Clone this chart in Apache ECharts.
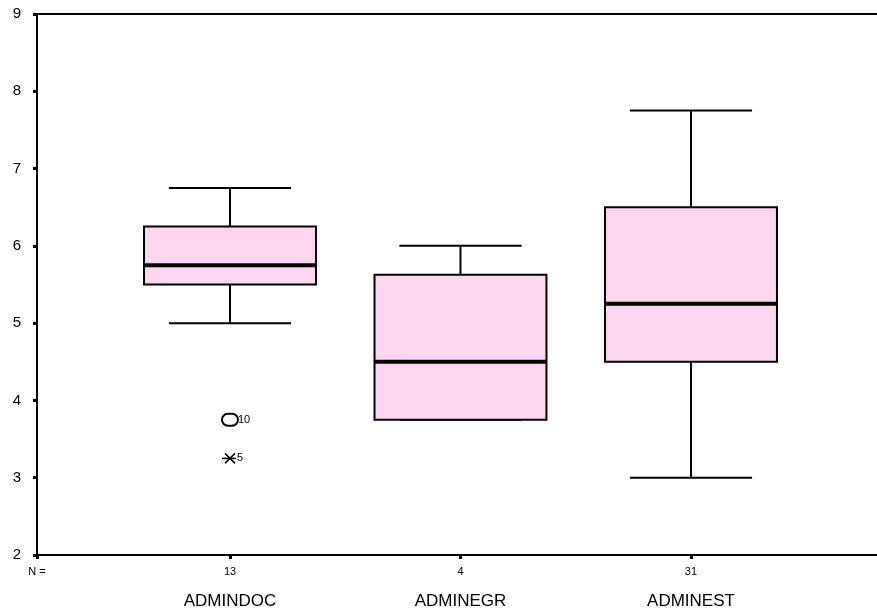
<!DOCTYPE html>
<html lang="en">

<head>
  <meta charset="UTF-8">
  <title>Boxplot</title>
  <style>
    html, body { margin: 0; padding: 0; background: #fff; }
    #box { width: 877px; height: 610px; }
  </style>
</head>

<body>
  <div id="box"></div>
  <script src="https://cdn.jsdelivr.net/npm/echarts@6/dist/echarts.min.js"></script>
  <script>
    // data
    var categories = ['ADMINDOC', 'ADMINEGR', 'ADMINEST'];
    var counts = [13, 4, 31];
    var lowWhisker = [5, 3.75, 3];
    var q1 = [5.5, 3.75, 4.5];
    var median = [5.75, 4.5, 5.25];
    var q3 = [6.25, 5.625, 6.5];
    var highWhisker = [6.75, 6, 7.75];
    // outliers (circle) and extremes (star): [group, value, case label]
    var outliers = [[1, 3.75, '10']];
    var extremes = [[1, 3.25, '5']];
    var yTicks = [2, 3, 4, 5, 6, 7, 8, 9];

    var xMin = 0.1627;
    var xMax = 3.807;
    var boxHalf = 0.373;
    var capHalf = 0.265;

    var boxData = categories.map(function (c, i) {
      return [i + 1, lowWhisker[i], q1[i], median[i], q3[i], highWhisker[i]];
    });

    var chart = echarts.init(document.getElementById('box'));

    var option = {
      animation: false,
      backgroundColor: '#fff',
      grid: { left: 37, top: 14, right: 0, bottom: 55 },
      xAxis: [{
        type: 'value',
        min: xMin,
        max: xMax,
        position: 'bottom',
        splitLine: { show: false },
        axisLine: { show: true, onZero: false, lineStyle: { color: '#000', width: 2 } },
        axisTick: {
          show: true,
          length: 4,
          inside: false,
          customValues: [xMin, 1, 2, 3],
          lineStyle: { color: '#000', width: 3 }
        },
        axisLabel: {
          show: true,
          margin: 4,
          customValues: [xMin, 1, 2, 3],
          formatter: function (v) {
            if (v < 0.5) return '{n|N =}\n{c| }';
            var i = Math.round(v) - 1;
            return '{n|' + counts[i] + '}\n{c|' + categories[i] + '}';
          },
          rich: {
            n: { fontSize: 11, lineHeight: 26, color: '#000', fontFamily: 'Liberation Sans' },
            c: { fontSize: 17, lineHeight: 32, color: '#000', fontFamily: 'Liberation Sans' }
          }
        }
      }, {
        type: 'value',
        min: xMin,
        max: xMax,
        position: 'top',
        splitLine: { show: false },
        axisLine: { show: true, onZero: false, lineStyle: { color: '#000', width: 2 } },
        axisTick: { show: false },
        axisLabel: { show: false }
      }],
      yAxis: {
        type: 'value',
        min: 2,
        max: 9,
        interval: 1,
        splitLine: { show: false },
        axisLine: { show: true, onZero: false, lineStyle: { color: '#000', width: 2 } },
        axisTick: { show: true, length: 4, lineStyle: { color: '#000', width: 3 } },
        axisLabel: {
          margin: 16,
          fontSize: 15,
          color: '#000',
          fontFamily: 'Liberation Sans',
          formatter: function (v) { return yTicks.indexOf(v) >= 0 ? String(v) : ''; }
        }
      },
      series: [{
        type: 'custom',
        data: boxData,
        encode: { x: 0, y: [1, 2, 3, 4, 5] },
        renderItem: function (params, api) {
          var x = api.value(0);
          var lo = api.coord([x, api.value(1)]);
          var b1 = api.coord([x, api.value(2)]);
          var md = api.coord([x, api.value(3)]);
          var b3 = api.coord([x, api.value(4)]);
          var hi = api.coord([x, api.value(5)]);
          var left = api.coord([x - boxHalf, 0])[0];
          var right = api.coord([x + boxHalf, 0])[0];
          var cl = api.coord([x - capHalf, 0])[0];
          var cr = api.coord([x + capHalf, 0])[0];
          var line = { stroke: '#000', lineWidth: 2 };
          return {
            type: 'group',
            children: [
              { type: 'line', shape: { x1: lo[0], y1: lo[1], x2: b1[0], y2: b1[1] }, style: line },
              { type: 'line', shape: { x1: hi[0], y1: hi[1], x2: b3[0], y2: b3[1] }, style: line },
              { type: 'line', shape: { x1: cl, y1: lo[1], x2: cr, y2: lo[1] }, style: line },
              { type: 'line', shape: { x1: cl, y1: hi[1], x2: cr, y2: hi[1] }, style: line },
              {
                type: 'rect',
                shape: { x: left, y: b3[1], width: right - left, height: b1[1] - b3[1] },
                style: { fill: '#ffd6f0', stroke: '#000', lineWidth: 2 }
              },
              { type: 'line', shape: { x1: left, y1: md[1], x2: right, y2: md[1] }, style: { stroke: '#000', lineWidth: 4 } }
            ]
          };
        }
      }, {
        type: 'custom',
        data: outliers,
        encode: { x: 0, y: 1 },
        renderItem: function (params, api) {
          var p = api.coord([api.value(0), api.value(1)]);
          return {
            type: 'group',
            children: [
              {
                type: 'rect',
                shape: { x: p[0] - 8, y: p[1] - 6, width: 16, height: 12, r: 6 },
                style: { fill: '#fff', stroke: '#000', lineWidth: 2 }
              },
              {
                type: 'text',
                style: {
                  x: p[0] + 8, y: p[1], text: outliers[params.dataIndex][2],
                  fontSize: 11, fontFamily: 'Liberation Sans', fill: '#000', verticalAlign: 'middle'
                }
              }
            ]
          };
        }
      }, {
        type: 'custom',
        data: extremes,
        encode: { x: 0, y: 1 },
        renderItem: function (params, api) {
          var p = api.coord([api.value(0), api.value(1)]);
          var s = { stroke: '#000', lineWidth: 1.5 };
          return {
            type: 'group',
            children: [
              { type: 'line', shape: { x1: p[0] - 8, y1: p[1], x2: p[0] + 6, y2: p[1] }, style: s },
              { type: 'line', shape: { x1: p[0] - 5, y1: p[1] - 5, x2: p[0] + 5, y2: p[1] + 5 }, style: s },
              { type: 'line', shape: { x1: p[0] - 5, y1: p[1] + 5, x2: p[0] + 5, y2: p[1] - 5 }, style: s },
              {
                type: 'text',
                style: {
                  x: p[0] + 7, y: p[1], text: extremes[params.dataIndex][2],
                  fontSize: 11, fontFamily: 'Liberation Sans', fill: '#000', verticalAlign: 'middle'
                }
              }
            ]
          };
        }
      }]
    };
    chart.setOption(option);
  </script>
</body>

</html>
